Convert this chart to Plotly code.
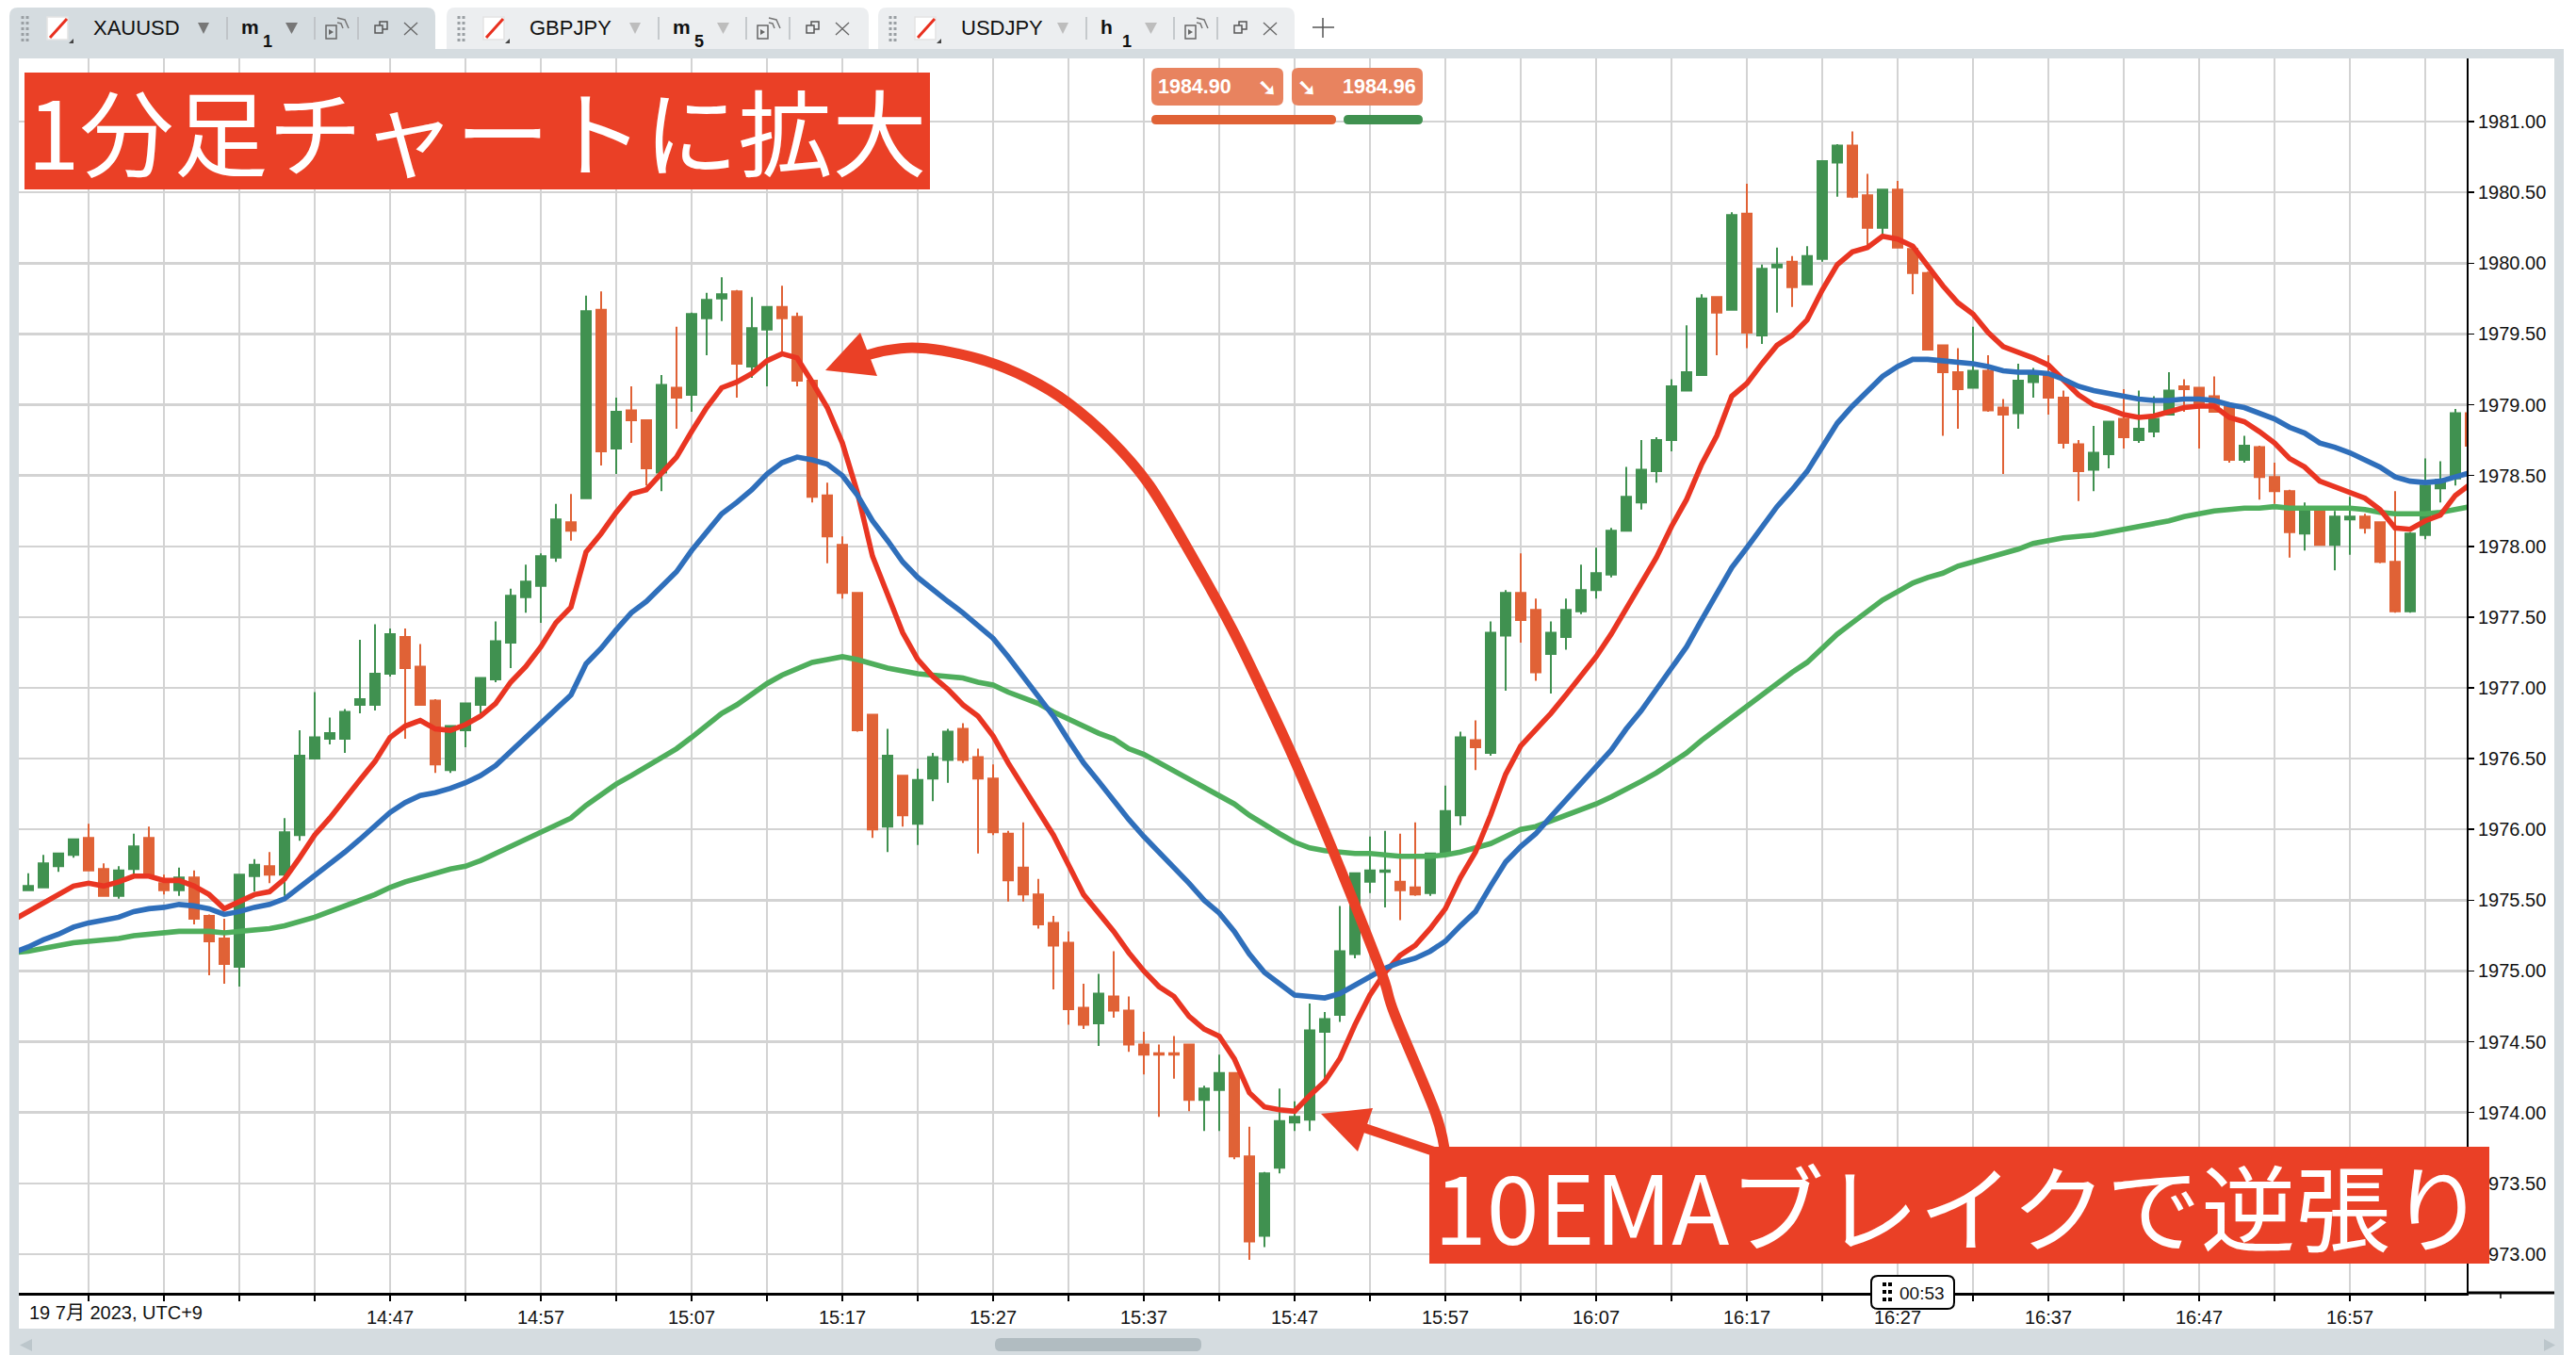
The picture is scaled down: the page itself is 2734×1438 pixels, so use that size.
import pandas as pd
import plotly.graph_objects as go

W, H = 2734, 1438

# Per-minute OHLC, first candle 14:22 on 19 Jul 2023
START = "2023-07-19 14:22"
OPEN = [
 1975.44,1975.57,1975.59,1975.74,1975.82,1975.94,1975.72,1975.53,1975.72,1975.94,
 1975.62,1975.57,1975.66,1975.39,1975.23,1975.03,1975.67,1975.74,1975.68,1975.96,
 1976.50,1976.64,1976.64,1976.88,1976.88,1977.10,1977.36,1977.15,1976.91,1976.42,
 1976.70,1976.88,1977.06,1977.32,1977.64,1977.72,1977.92,1978.17,1978.34,1979.67,
 1978.69,1978.96,1978.89,1978.52,1979.12,1979.07,1979.61,1979.75,1979.80,1979.27,
 1979.53,1979.69,1979.62,1979.17,1978.36,1978.01,1977.67,1976.81,1976.02,1976.38,
 1976.04,1976.36,1976.49,1976.71,1976.51,1976.36,1975.97,1975.73,1975.54,1975.34,
 1975.20,1974.74,1974.63,1974.82,1974.72,1974.48,1974.42,1974.42,1974.48,1974.09,
 1974.16,1974.28,1973.69,1973.13,1973.61,1973.93,1973.95,1974.57,1974.69,1975.12,
 1975.63,1975.70,1975.63,1975.59,1975.55,1975.83,1976.10,1976.63,1976.54,1977.37,
 1977.67,1977.55,1977.24,1977.36,1977.54,1977.69,1977.80,1978.11,1978.31,1978.53,
 1978.75,1979.10,1979.21,1979.76,1979.67,1980.35,1979.49,1979.97,1980.01,1979.85,
 1980.03,1980.71,1980.83,1980.48,1980.25,1980.52,1980.10,1979.93,1979.42,1979.23,
 1979.12,1979.24,1978.98,1978.94,1979.16,1979.22,1979.05,1978.72,1978.54,1978.65,
 1978.90,1978.75,1978.81,1978.93,1979.13,1979.12,1979.06,1979.00,1978.61,1978.70,
 1978.49,1978.39,1978.09,1978.25,1978.01,1978.19,1978.21,1978.17,1977.89,1977.54,
 1978.08,1978.41,1978.48,1978.94]
HIGH = [
 1975.56,1975.69,1975.82,1975.83,1975.93,1976.04,1975.76,1975.74,1975.97,1976.02,
 1975.68,1975.73,1975.71,1975.40,1975.37,1975.68,1975.79,1975.84,1976.08,1976.70,
 1976.97,1976.79,1976.85,1977.34,1977.45,1977.42,1977.42,1977.31,1976.92,1976.73,
 1976.89,1977.07,1977.47,1977.70,1977.87,1977.95,1978.30,1978.37,1979.77,1979.80,
 1979.05,1979.13,1978.89,1979.21,1979.55,1979.65,1979.79,1979.90,1979.81,1979.76,
 1979.69,1979.84,1979.65,1979.17,1978.45,1978.07,1977.67,1976.81,1976.71,1976.38,
 1976.43,1976.54,1976.71,1976.75,1976.57,1976.46,1975.99,1976.05,1975.65,1975.39,
 1975.28,1974.91,1974.98,1975.14,1974.82,1974.57,1974.48,1974.54,1974.48,1974.19,
 1974.41,1974.28,1973.90,1973.58,1974.17,1974.08,1974.77,1974.71,1975.46,1975.69,
 1975.95,1975.99,1975.97,1976.05,1975.83,1976.31,1976.69,1976.77,1977.47,1977.69,
 1977.95,1977.63,1977.47,1977.63,1977.87,1977.99,1978.13,1978.56,1978.75,1978.77,
 1979.18,1979.56,1979.78,1979.76,1980.36,1980.56,1979.99,1980.11,1980.05,1980.12,
 1980.72,1980.84,1980.93,1980.63,1980.52,1980.58,1980.10,1979.94,1979.42,1979.40,
 1979.55,1979.35,1979.04,1979.29,1979.26,1979.35,1979.10,1978.75,1978.85,1978.88,
 1979.11,1979.10,1979.06,1979.23,1979.18,1979.12,1979.20,1979.00,1978.78,1978.71,
 1978.59,1978.40,1978.31,1978.25,1978.25,1978.35,1978.23,1978.17,1978.39,1978.10,
 1978.62,1978.60,1978.97,1978.94]
LOW = [
 1975.44,1975.57,1975.59,1975.70,1975.80,1975.71,1975.53,1975.51,1975.68,1975.68,
 1975.54,1975.53,1975.33,1974.97,1974.91,1974.89,1975.56,1975.62,1975.53,1975.92,
 1976.50,1976.60,1976.54,1976.82,1976.84,1977.08,1976.64,1976.88,1976.40,1976.40,
 1976.58,1976.82,1977.04,1977.14,1977.53,1977.46,1977.89,1978.04,1978.34,1978.57,
 1978.51,1978.73,1978.43,1978.39,1978.83,1978.95,1979.35,1979.59,1979.05,1979.19,
 1979.13,1979.36,1979.13,1978.31,1977.88,1977.63,1976.69,1975.94,1975.84,1976.02,
 1975.89,1976.20,1976.33,1976.47,1975.83,1975.96,1975.49,1975.49,1975.30,1974.87,
 1974.62,1974.59,1974.47,1974.67,1974.43,1974.27,1973.97,1974.24,1974.01,1973.87,
 1973.87,1973.67,1972.96,1973.05,1973.57,1973.87,1973.87,1974.22,1974.64,1975.09,
 1975.55,1975.45,1975.36,1975.53,1975.53,1975.83,1976.03,1976.42,1976.52,1976.98,
 1977.32,1977.05,1976.96,1977.27,1977.52,1977.63,1977.78,1978.11,1978.26,1978.45,
 1978.67,1979.10,1979.21,1979.35,1979.67,1979.40,1979.43,1979.65,1979.69,1979.85,
 1980.01,1980.47,1980.46,1980.12,1980.18,1980.11,1979.78,1979.39,1978.78,1978.83,
 1979.12,1978.95,1978.51,1978.83,1979.05,1978.93,1978.69,1978.32,1978.39,1978.55,
 1978.69,1978.73,1978.77,1978.93,1978.95,1978.69,1978.95,1978.59,1978.59,1978.33,
 1978.30,1977.92,1977.97,1978.01,1977.83,1977.94,1978.09,1977.88,1977.53,1977.53,
 1978.05,1978.31,1978.43,1978.71]
CLOSE = [
 1975.56,1975.60,1975.76,1975.83,1975.93,1975.71,1975.53,1975.71,1975.88,1975.68,
 1975.57,1975.66,1975.37,1975.21,1975.05,1975.68,1975.75,1975.68,1975.98,1976.52,
 1976.65,1976.68,1976.83,1976.92,1977.10,1977.38,1977.14,1976.88,1976.46,1976.73,
 1976.89,1977.07,1977.33,1977.65,1977.75,1977.93,1978.19,1978.11,1979.66,1978.67,
 1978.95,1978.89,1978.55,1979.14,1979.05,1979.64,1979.74,1979.78,1979.29,1979.54,
 1979.69,1979.61,1979.17,1978.35,1978.07,1977.67,1976.70,1976.00,1976.52,1976.10,
 1976.35,1976.51,1976.69,1976.49,1976.36,1975.98,1975.64,1975.54,1975.33,1975.18,
 1974.73,1974.62,1974.84,1974.72,1974.48,1974.41,1974.41,1974.41,1974.09,1974.17,
 1974.28,1973.69,1973.09,1973.57,1973.94,1973.97,1974.58,1974.66,1975.14,1975.69,
 1975.71,1975.71,1975.57,1975.54,1975.83,1976.13,1976.65,1976.58,1977.39,1977.67,
 1977.48,1977.11,1977.39,1977.55,1977.69,1977.81,1978.11,1978.35,1978.54,1978.75,
 1979.13,1979.23,1979.75,1979.65,1980.34,1979.51,1979.96,1979.99,1979.83,1980.05,
 1980.72,1980.83,1980.47,1980.25,1980.52,1980.11,1979.93,1979.39,1979.23,1979.11,
 1979.24,1978.96,1978.93,1979.17,1979.23,1979.05,1978.73,1978.53,1978.66,1978.88,
 1978.77,1978.83,1978.90,1979.10,1979.11,1978.99,1978.95,1978.61,1978.71,1978.49,
 1978.39,1978.10,1978.25,1978.01,1978.21,1978.21,1978.13,1977.89,1977.54,1978.09,
 1978.43,1978.47,1978.94,1978.71]

EMA_RED = [
 1975.36,1975.42,1975.48,1975.53,1975.60,1975.62,1975.60,1975.63,1975.67,1975.67,
 1975.64,1975.64,1975.60,1975.54,1975.44,1975.49,1975.54,1975.56,1975.65,1975.80,
 1975.96,1976.08,1976.22,1976.35,1976.48,1976.65,1976.73,1976.77,1976.71,1976.70,
 1976.74,1976.80,1976.89,1977.04,1977.15,1977.29,1977.46,1977.57,1977.96,1978.09,
 1978.24,1978.37,1978.40,1978.52,1978.63,1978.81,1978.98,1979.12,1979.16,1979.22,
 1979.31,1979.36,1979.33,1979.16,1978.98,1978.73,1978.38,1977.93,1977.67,1977.39,
 1977.20,1977.08,1976.99,1976.88,1976.80,1976.66,1976.47,1976.30,1976.12,1975.96,
 1975.75,1975.54,1975.41,1975.28,1975.13,1975.00,1974.89,1974.82,1974.68,1974.59,
 1974.54,1974.38,1974.14,1974.04,1974.02,1974.01,1974.12,1974.22,1974.38,1974.62,
 1974.83,1974.99,1975.11,1975.18,1975.30,1975.44,1975.66,1975.84,1976.10,1976.39,
 1976.59,1976.70,1976.82,1976.95,1977.09,1977.22,1977.38,1977.56,1977.74,1977.92,
 1978.14,1978.33,1978.58,1978.78,1979.06,1979.15,1979.29,1979.42,1979.49,1979.60,
 1979.81,1979.99,1980.08,1980.11,1980.19,1980.17,1980.12,1979.98,1979.84,1979.72,
 1979.64,1979.51,1979.41,1979.37,1979.33,1979.28,1979.18,1979.07,1979.00,1978.97,
 1978.93,1978.91,1978.92,1978.95,1978.98,1978.99,1978.99,1978.91,1978.88,1978.81,
 1978.73,1978.62,1978.56,1978.46,1978.42,1978.38,1978.34,1978.26,1978.13,1978.12,
 1978.18,1978.22,1978.36,1978.44]
EMA_BLUE = [
 1975.13,1975.17,1975.22,1975.26,1975.31,1975.34,1975.36,1975.38,1975.42,1975.44,
 1975.45,1975.47,1975.46,1975.44,1975.40,1975.42,1975.45,1975.47,1975.51,1975.59,
 1975.68,1975.76,1975.84,1975.93,1976.02,1976.12,1976.19,1976.24,1976.26,1976.29,
 1976.33,1976.38,1976.45,1976.55,1976.64,1976.74,1976.84,1976.95,1977.17,1977.28,
 1977.41,1977.53,1977.61,1977.72,1977.82,1977.97,1978.10,1978.23,1978.31,1978.40,
 1978.51,1978.59,1978.63,1978.61,1978.58,1978.50,1978.36,1978.18,1978.04,1977.89,
 1977.78,1977.69,1977.61,1977.53,1977.44,1977.35,1977.22,1977.08,1976.93,1976.80,
 1976.63,1976.47,1976.34,1976.20,1976.07,1975.95,1975.84,1975.74,1975.62,1975.50,
 1975.41,1975.28,1975.12,1974.99,1974.91,1974.83,1974.82,1974.81,1974.84,1974.90,
 1974.97,1975.02,1975.06,1975.09,1975.14,1975.21,1975.32,1975.42,1975.60,1975.77,
 1975.88,1975.97,1976.09,1976.21,1976.33,1976.44,1976.56,1976.71,1976.84,1976.99,
 1977.14,1977.29,1977.48,1977.67,1977.85,1977.99,1978.14,1978.28,1978.40,1978.53,
 1978.70,1978.87,1978.99,1979.09,1979.20,1979.27,1979.32,1979.32,1979.31,1979.30,
 1979.29,1979.27,1979.24,1979.23,1979.23,1979.22,1979.18,1979.13,1979.10,1979.08,
 1979.06,1979.04,1979.03,1979.03,1979.04,1979.04,1979.03,1979.00,1978.98,1978.94,
 1978.90,1978.84,1978.80,1978.73,1978.70,1978.66,1978.61,1978.56,1978.49,1978.46,
 1978.45,1978.46,1978.49,1978.52]
EMA_GREEN = [
 1975.13,1975.14,1975.16,1975.18,1975.20,1975.21,1975.22,1975.23,1975.25,1975.26,
 1975.27,1975.28,1975.28,1975.28,1975.27,1975.28,1975.29,1975.30,1975.32,1975.35,
 1975.38,1975.42,1975.46,1975.50,1975.54,1975.59,1975.63,1975.66,1975.69,1975.72,
 1975.74,1975.78,1975.83,1975.88,1975.92,1975.98,1976.03,1976.08,1976.17,1976.25,
 1976.32,1976.38,1976.44,1976.51,1976.57,1976.65,1976.74,1976.82,1976.88,1976.96,
 1977.03,1977.09,1977.14,1977.18,1977.20,1977.22,1977.20,1977.17,1977.14,1977.12,
 1977.10,1977.09,1977.08,1977.07,1977.04,1977.02,1976.97,1976.93,1976.89,1976.83,
 1976.78,1976.72,1976.68,1976.64,1976.57,1976.53,1976.47,1976.42,1976.36,1976.29,
 1976.24,1976.18,1976.10,1976.03,1975.97,1975.91,1975.87,1975.85,1975.84,1975.83,
 1975.83,1975.82,1975.81,1975.81,1975.81,1975.82,1975.84,1975.87,1975.90,1975.95,
 1976.00,1976.02,1976.06,1976.10,1976.14,1976.18,1976.23,1976.28,1976.34,1976.40,
 1976.47,1976.54,1976.63,1976.71,1976.80,1976.87,1976.95,1977.04,1977.11,1977.18,
 1977.28,1977.38,1977.46,1977.54,1977.62,1977.68,1977.74,1977.78,1977.81,1977.86,
 1977.89,1977.92,1977.95,1977.98,1978.02,1978.04,1978.06,1978.07,1978.08,1978.10,
 1978.12,1978.14,1978.16,1978.18,1978.21,1978.23,1978.25,1978.26,1978.27,1978.27,
 1978.28,1978.27,1978.27,1978.27,1978.27,1978.27,1978.26,1978.24,1978.23,1978.23,
 1978.23,1978.24,1978.26,1978.28]

PRICE_TICKS = [1973 + 0.5 * i for i in range(17)]
TIME_TICKS = pd.date_range("2023-07-19 14:27", "2023-07-19 17:02", freq="5min")
TIME_LABELS = ["" if (t.minute % 10 != 7 or t < pd.Timestamp("2023-07-19 14:47")) else t.strftime("%H:%M")
               for t in TIME_TICKS]
TITLE_TEXT = "1分足チャートに拡大"
NOTE_TEXT = "10EMAブレイクで逆張り"
DATE_TEXT = "19 7月 2023, UTC+9"
TIMER_TEXT = "00:53"
BID_TEXT, ASK_TEXT = "1984.90", "1984.96"

UP, DOWN = "#409150", "#e06236"
RED, BLUE, GREEN = "#e93522", "#2f6fbb", "#4fae5c"
ANNOT = "#ea4026"
FRAME = "#d5dce0"
GRID = "#d3d3d3"
SANS = "Liberation Sans, Arial, sans-serif"
CJK = "Noto Sans CJK JP, sans-serif"

times = pd.date_range(START, periods=len(OPEN), freq="1min")

fig = go.Figure()
fig.add_trace(go.Candlestick(
    x=times, open=OPEN, high=HIGH, low=LOW, close=CLOSE,
    increasing=dict(line=dict(color=UP, width=2), fillcolor=UP),
    decreasing=dict(line=dict(color=DOWN, width=2), fillcolor=DOWN),
    whiskerwidth=0, hoverinfo="skip", showlegend=False))
for vals, col in ((EMA_GREEN, GREEN), (EMA_RED, RED), (EMA_BLUE, BLUE)):
    fig.add_trace(go.Scatter(x=times, y=vals, mode="lines", hoverinfo="skip", showlegend=False,
                             line=dict(color=col, width=5.6)))


def X(p):
    return p / W


def Y(p):
    return 1 - p / H


shapes, notes = [], []


def rect(x0, y0, x1, y1, fill, line=None, lw=0):
    shapes.append(dict(type="rect", xref="paper", yref="paper", x0=X(x0), x1=X(x1), y0=Y(y0), y1=Y(y1),
                       fillcolor=fill, line=dict(color=line or fill, width=lw), layer="above"))


def seg(x0, y0, x1, y1, col, lw=1.5, dash="solid"):
    shapes.append(dict(type="line", xref="paper", yref="paper", x0=X(x0), x1=X(x1), y0=Y(y0), y1=Y(y1),
                       line=dict(color=col, width=lw, dash=dash), layer="above"))


def poly(pts, fill=None, col=None, lw=0, close=True):
    d = "M " + " L ".join(f"{X(a):.6f} {Y(b):.6f}" for a, b in pts) + (" Z" if close else "")
    shapes.append(dict(type="path", xref="paper", yref="paper", path=d, fillcolor=fill or "rgba(0,0,0,0)",
                       line=dict(color=col or "rgba(0,0,0,0)", width=lw), layer="above"))


def curve(pts, col, lw):
    """Smooth open curve through the pen points (Catmull-Rom as cubic segments)."""
    d = f"M {X(pts[0][0]):.6f} {Y(pts[0][1]):.6f}"
    for i in range(len(pts) - 1):
        p0 = pts[max(i - 1, 0)]
        p1, p2 = pts[i], pts[i + 1]
        p3 = pts[min(i + 2, len(pts) - 1)]
        c1 = (p1[0] + (p2[0] - p0[0]) / 6, p1[1] + (p2[1] - p0[1]) / 6)
        c2 = (p2[0] - (p3[0] - p1[0]) / 6, p2[1] - (p3[1] - p1[1]) / 6)
        d += (f" C {X(c1[0]):.6f} {Y(c1[1]):.6f} {X(c2[0]):.6f} {Y(c2[1]):.6f}"
              f" {X(p2[0]):.6f} {Y(p2[1]):.6f}")
    shapes.append(dict(type="path", xref="paper", yref="paper", path=d, fillcolor="rgba(0,0,0,0)",
                       line=dict(color=col, width=lw), layer="above"))


def rrect(x0, y0, x1, y1, r, fill, line=None, lw=0, top_only=False):
    a, b, c, d = X(x0), Y(y0), X(x1), Y(y1)
    rx, ry = r / W, r / H
    if top_only:
        path = (f"M {a} {d} L {a} {b - ry} Q {a} {b} {a + rx} {b} L {c - rx} {b} Q {c} {b} {c} {b - ry} L {c} {d} Z")
    else:
        path = (f"M {a + rx} {b} L {c - rx} {b} Q {c} {b} {c} {b - ry} L {c} {d + ry} Q {c} {d} {c - rx} {d} "
                f"L {a + rx} {d} Q {a} {d} {a} {d + ry} L {a} {b - ry} Q {a} {b} {a + rx} {b} Z")
    shapes.append(dict(type="path", xref="paper", yref="paper", path=path, fillcolor=fill,
                       line=dict(color=line or fill, width=lw), layer="above"))


def txt(x, y, s, size, color="#111111", anchor="left", family=SANS):
    notes.append(dict(xref="paper", yref="paper", x=X(x), y=Y(y), text=s, showarrow=False,
                      xanchor=anchor, yanchor="middle", align=anchor,
                      font=dict(size=size, color=color, family=family), borderpad=0, borderwidth=0))


# window frame around the chart
rect(10, 52, 20, 1438, FRAME)
rect(2711, 52, 2721, 1438, FRAME)
rect(10, 52, 2721, 62, FRAME)
rect(20, 1410, 2711, 1438, FRAME)

# lower axis running past the price scale
seg(2618, 1372, 2711, 1372, "#000000", 3)
seg(2654, 1372, 2654, 1378, "#000000", 1.5)

# tabs
TABS = [
    dict(x0=10, x1=462, off_t=0, off=0, sym="XAUUSD", tf="m", sub="1", bg=FRAME, tri="#777777"),
    dict(x0=474, x1=922, off_t=463, off=458, sym="GBPJPY", tf="m", sub="5", bg="#eceef0", tri="#bdbdbd"),
    dict(x0=932, x1=1374, off_t=921, off=912, sym="USDJPY", tf="h", sub="1", bg="#eceef0", tri="#bdbdbd"),
]
for tb in TABS:
    o, ot = tb["off"], tb["off_t"]
    rrect(tb["x0"], 8, tb["x1"], 52, 9, tb["bg"], top_only=True)
    seg(24 + ot, 17, 24 + ot, 44, "#9a9fa3", 3, "dot")
    seg(29 + ot, 17, 29 + ot, 44, "#9a9fa3", 3, "dot")
    rect(50 + ot, 18, 72 + ot, 42, "#ffffff", "#e3e3e3", 1.5)
    seg(71 + ot, 20, 53 + ot, 40, "#e8301f", 3)
    poly([(78 + ot, 41), (78 + ot, 46), (73 + ot, 46)], fill="#444444")
    txt(99 + ot, 30, tb["sym"], 22)
    tri = tb["tri"]
    poly([(210 + o, 24), (222 + o, 24), (216 + o, 36)], fill=tri)
    seg(241 + o, 18, 241 + o, 42, "#b9bdc0", 1.5)
    txt(256 + o, 29, f"<b>{tb['tf']}</b>", 21)
    txt(279 + o, 44, f"<b>{tb['sub']}</b>", 18)
    poly([(303 + o, 24), (316 + o, 24), (309.5 + o, 36)], fill=tri)
    seg(334 + o, 18, 334 + o, 42, "#b9bdc0", 1.5)
    rect(346 + o, 27, 357 + o, 41, "rgba(0,0,0,0)", "#666666", 1.5)
    poly([(349 + o, 31), (354 + o, 34), (349 + o, 37)], fill="#666666")
    poly([(358 + o, 24), (362 + o, 25), (364 + o, 30)], col="#777777", lw=1.5, close=False)
    poly([(358 + o, 19), (366 + o, 21), (370 + o, 30)], col="#777777", lw=1.5, close=False)
    seg(380 + o, 18, 380 + o, 42, "#b9bdc0", 1.5)
    rect(403 + o, 23, 411 + o, 31, "rgba(0,0,0,0)", "#555555", 1.5)
    rect(398 + o, 27, 406 + o, 35, tb["bg"], "#555555", 1.5)
    seg(429 + o, 24, 443 + o, 37, "#666666", 1.3)
    seg(443 + o, 24, 429 + o, 37, "#666666", 1.3)
seg(1404, 19, 1404, 40, "#555555", 1.5)
seg(1393, 29, 1416, 29, "#555555", 1.5)

# bid / ask buttons
rrect(1222, 72, 1362, 112, 7, "#e8835f")
rrect(1371, 72, 1510, 112, 7, "#e8835f")
rrect(1222, 122, 1418, 132, 5, DOWN)
rrect(1426, 122, 1510, 132, 5, UP)
txt(1229, 92, f"<b>{BID_TEXT}</b>", 21.5, "#ffffff")
txt(1345, 92, "<b>➘</b>", 24, "#ffffff", "center")
txt(1387, 92, "<b>➘</b>", 24, "#ffffff", "center")
txt(1503, 92, f"<b>{ASK_TEXT}</b>", 21.5, "#ffffff", "right")

# scrollbar
rrect(1056, 1420, 1275, 1434, 6, "#b1bcc1")
poly([(34, 1421), (34, 1434), (21, 1427.5)], fill="#bcc6cb")
poly([(2700, 1421), (2700, 1434), (2712, 1427.5)], fill="#bcc6cb")

# freehand arrows
curve([(1534, 1224), (1523, 1180), (1480, 1076), (1465, 1029), (1416, 906), (1374, 807), (1343, 740),
       (1308, 668), (1265, 590), (1220, 515), (1180, 468), (1133, 427), (1090, 401), (1046, 383),
       (1000, 372), (968, 369), (940, 372), (920, 377)], ANNOT, 11)
poly([(876, 393), (913, 353), (931, 399)], fill=ANNOT)
poly([(1445, 1196), (1522, 1222)], col=ANNOT, lw=10, close=False)
poly([(1402, 1182), (1457, 1176), (1441, 1222)], fill=ANNOT)

# captions
rect(26, 77, 987, 201, ANNOT)
txt(506.5, 137, TITLE_TEXT, 100, "#ffffff", "center", CJK)
rect(1517, 1217, 2642, 1341, ANNOT)
txt(2079, 1277, NOTE_TEXT, 100.5, "#ffffff", "center", CJK)

# date caption and countdown box
txt(31, 1393, DATE_TEXT, 20, "#111111", "left", SANS + ", Noto Sans CJK JP")
rrect(1986, 1354, 2074, 1389, 7, "#ffffff", "#000000", 2)
seg(2000, 1361, 2000, 1383, "#000000", 4, "dot")
seg(2006, 1361, 2006, 1383, "#000000", 4, "dot")
txt(2040, 1372, TIMER_TEXT, 19, "#111111", "center")

fig.update_layout(
    width=W, height=H, autosize=False, margin=dict(l=0, r=0, t=0, b=0, pad=0),
    paper_bgcolor="#ffffff", plot_bgcolor="#ffffff", showlegend=False, hovermode=False,
    boxgap=0.375, boxgroupgap=0, dragmode=False, shapes=shapes, annotations=notes,
    xaxis=dict(
        domain=[20 / W, 2618 / W], range=["2023-07-19 14:22:22.5", "2023-07-19 17:04:45"],
        type="date", rangeslider=dict(visible=False), tickmode="array", tickvals=TIME_TICKS, ticktext=TIME_LABELS,
        ticks="outside", ticklen=6, tickwidth=1.5, tickcolor="#000000", tickangle=0,
        tickfont=dict(size=20, color="#111111", family=SANS), showgrid=True, gridcolor=GRID, gridwidth=2,
        showline=True, linecolor="#000000", linewidth=3, zeroline=False),
    yaxis=dict(
        domain=[1 - 1372 / H, 1 - 62 / H], range=[1972.727, 1981.446], side="right",
        tickmode="array", tickvals=PRICE_TICKS, ticktext=[f"{v:.2f}" for v in PRICE_TICKS],
        ticks="outside", ticklen=6, tickwidth=1.5, tickcolor="#000000",
        tickfont=dict(size=20, color="#111111", family=SANS), showgrid=True, gridcolor=GRID, gridwidth=2.5,
        showline=True, linecolor="#000000", linewidth=2, zeroline=False),
)

fig.write_html("out.html", config=dict(displayModeBar=False, staticPlot=True),
               post_script="document.body.style.margin='0';document.documentElement.style.overflow='hidden';")
